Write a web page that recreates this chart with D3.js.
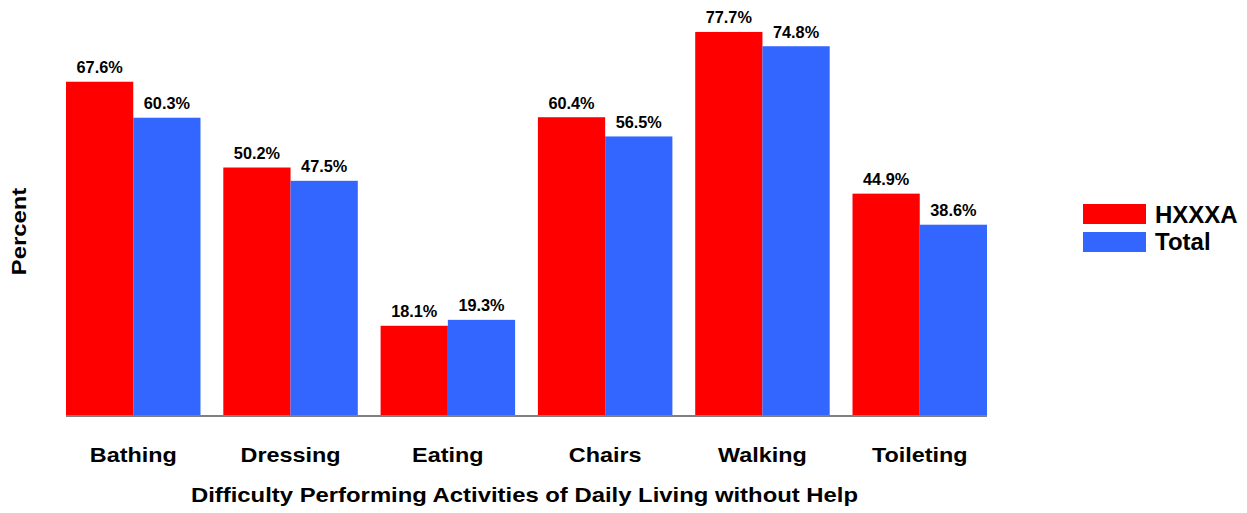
<!DOCTYPE html>
<html>
<head>
<meta charset="utf-8">
<script src="https://cdn.jsdelivr.net/npm/d3@7"></script>
<style>
  body { margin: 0; background: #fff; }
  svg text { font-family: "Liberation Sans", Arial, sans-serif; font-weight: bold; fill: #000; }
</style>
</head>
<body>
<div class="chart"></div>
<script>
const categories = ["Bathing", "Dressing", "Eating", "Chairs", "Walking", "Toileting"];
const seriesNames = ["HXXXA", "Total"];
const hxxxa = [67.6, 50.2, 18.1, 60.4, 77.7, 44.9];
const total = [60.3, 47.5, 19.3, 56.5, 74.8, 38.6];
const colors = ["#ff0000", "#3366ff"];

const w = 1247,
  h = 513,
  left = 66,
  right = 987,
  base = 415,
  stretch = 1.17,
  svg = d3.select(".chart")
    .append("svg")
    .attr("width", w)
    .attr("height", h);

const xScale = d3.scaleBand()
  .domain(categories)
  .range([left, right])
  .paddingInner(0.145)
  .paddingOuter(0);
const subScale = d3.scaleBand()
  .domain(seriesNames)
  .range([0, xScale.bandwidth()]);
const yScale = d3.scaleLinear()
  .domain([0, 80])
  .range([base, 20.6]);

const rows = categories.map((c, i) => ({ cat: c, vals: [hxxxa[i], total[i]] }));

const groups = svg.selectAll("g.group")
  .data(rows)
  .enter()
  .append("g")
  .attr("class", "group")
  .attr("transform", d => "translate(" + xScale(d.cat) + ",0)");

groups.selectAll("rect")
  .data(d => d.vals.map((v, i) => ({ name: seriesNames[i], v: v, i: i })))
  .enter()
  .append("rect")
  .attr("x", d => subScale(d.name))
  .attr("y", d => yScale(d.v))
  .attr("width", subScale.bandwidth())
  .attr("height", d => base - yScale(d.v))
  .attr("fill", d => colors[d.i]);

groups.selectAll("text.val")
  .data(d => d.vals.map((v, i) => ({ name: seriesNames[i], v: v })))
  .enter()
  .append("text")
  .attr("class", "val")
  .attr("x", d => subScale(d.name) + subScale.bandwidth() / 2)
  .attr("y", d => yScale(d.v) - 8.7)
  .attr("text-anchor", "middle")
  .style("font-size", "16.3px")
  .text(d => d.v.toFixed(1) + "%");

// x axis
const xAxis = d3.axisBottom(xScale).tickSize(0).tickPadding(0);
const gx = svg.append("g")
  .attr("transform", "translate(0," + base + ")")
  .call(xAxis);
gx.select(".domain").attr("stroke", "#808080").attr("stroke-width", 2).attr("d", "M" + left + ",1H" + right);
gx.selectAll(".tick text")
  .attr("y", 0)
  .attr("dy", 0)
  .attr("transform", "translate(0,46.5) scale(" + stretch + ",1)")
  .style("font-size", "20px")
  .style("font-family", "'Liberation Sans', Arial, sans-serif")
  .style("font-weight", "bold")
  .attr("fill", "#000");

svg.append("text")
  .attr("transform", "translate(" + ((left + right) / 2 - 2) + ",502.3) scale(" + stretch + ",1)")
  .attr("text-anchor", "middle")
  .style("font-size", "20.4px")
  .text("Difficulty Performing Activities of Daily Living without Help");

svg.append("text")
  .attr("transform", "translate(26,231.5) rotate(-90) scale(" + stretch + ",1)")
  .attr("text-anchor", "middle")
  .style("font-size", "20.4px")
  .text("Percent");

// legend
const legend = svg.append("g").attr("transform", "translate(1083,204)");
seriesNames.forEach((n, i) => {
  legend.append("rect")
    .attr("x", 0)
    .attr("y", i * 28)
    .attr("width", 63)
    .attr("height", 20)
    .attr("fill", colors[i]);
  legend.append("text")
    .attr("x", 72)
    .attr("y", i * 27 + 18.7)
    .style("font-size", "24px")
    .text(n);
});
</script>
</body>
</html>
